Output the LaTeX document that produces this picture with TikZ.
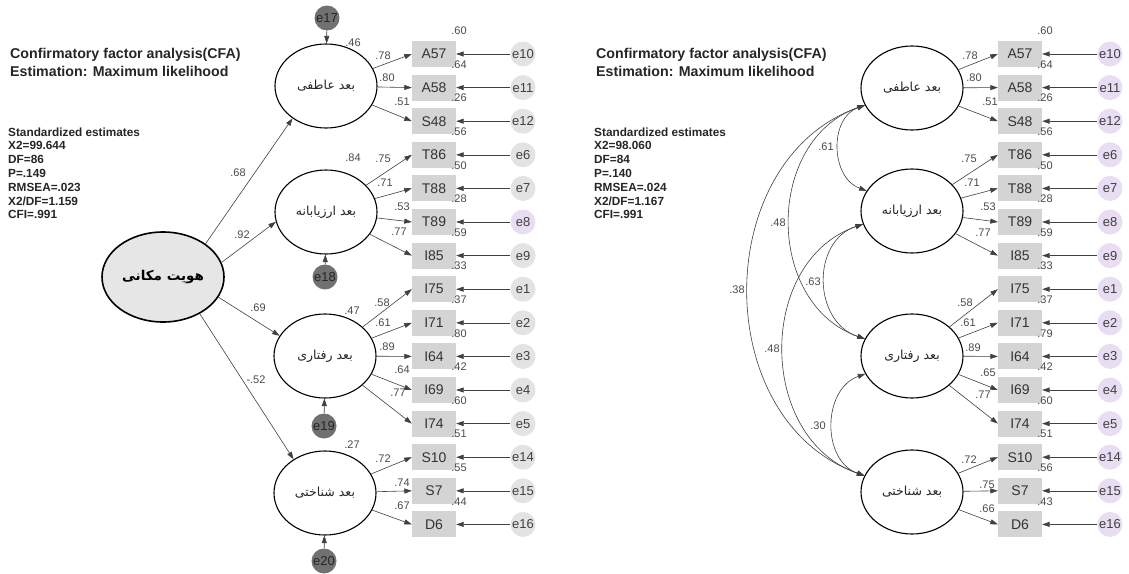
\documentclass[tikz,border=0pt]{standalone}
\usepackage{fontspec}
\setmainfont{Liberation Sans}
\newfontfamily\fafont[Script=Arabic]{DejaVu Sans}
\TeXXeTstate=1
\usetikzlibrary{arrows.meta,shapes.geometric}
\definecolor{boxgray}{HTML}{D4D4D4}
\definecolor{errgray}{HTML}{E3E3E3}
\definecolor{errlilac}{HTML}{E8DDF3}
\definecolor{resdark}{HTML}{717171}
\definecolor{latfill}{HTML}{E6E6E6}
\definecolor{linegray}{HTML}{404040}
\definecolor{numgray}{HTML}{4A4A4A}
\newcommand{\fa}[1]{{\fafont\beginR #1\endR}}
\begin{document}
\begin{tikzpicture}[x=1pt,y=-1pt,
  factor/.style={ellipse,draw=black,line width=1.1pt,minimum width=102pt,minimum height=84pt,inner sep=0pt,text=black!85,font=\fafont\fontsize{12.5}{13}\selectfont},
  general/.style={ellipse,draw=black,line width=1.6pt,fill=latfill,minimum width=122pt,minimum height=90pt,inner sep=0pt,font=\fafont\bfseries\fontsize{13.5}{14}\selectfont},
  obs/.style={rectangle,fill=boxgray,minimum width=44pt,minimum height=26pt,inner sep=0pt,text=black!80,font=\fontsize{14}{14}\selectfont},
  err/.style={circle,fill=errgray,minimum size=25pt,inner sep=0pt,text=black!75,font=\fontsize{13}{13}\selectfont},
  dist/.style={circle,fill=resdark,minimum size=25pt,inner sep=0pt,text=black!85,font=\fontsize{13}{13}\selectfont},
  path/.style={draw=linegray,line width=0.6pt,-{Triangle[length=7.5pt,width=5pt]}},
  cov/.style={draw=linegray,line width=0.6pt,{Triangle[length=7.5pt,width=5pt]}-{Triangle[length=7.5pt,width=5pt]}},
  num/.style={inner sep=0pt,text=numgray,font=\fontsize{11}{12}\selectfont},
  title/.style={inner sep=0pt,anchor=west,text=black!85,font=\bfseries\fontsize{14.2}{15}\selectfont},
  stat/.style={inner sep=0pt,anchor=west,text=black!85,font=\bfseries\fontsize{11.8}{12}\selectfont}]
\useasboundingbox (0,0) rectangle (1129,573);
\fill[white] (0,0) rectangle (1129,573);

% ---------------- second-order model ----------------
\begin{scope}[name prefix=L-]
  \node[title] (t1) at (10,55) {Confirmatory factor analysis(CFA)};
  \node[title] (t2) at (10,71) {Estimation: Maximum likelihood};
  \foreach \s [count=\i from 0] in {Standardized estimates,X2=99.644,DF=86,P=.149,RMSEA=.023,X2/DF=1.159,CFI=.991}
    \node[stat] (s\i) at (8,{132+13.8*\i}) {\s};

  \node[general] (G) at (163,277) {\fa{هویت مکانی}};
  \node[factor] (F1) at (326,86) {\fa{بعد عاطفی}};
  \node[factor] (F2) at (326,212) {\fa{بعد ارزیابانه}};
  \node[factor] (F3) at (325,356) {\fa{بعد رفتاری}};
  \node[factor] (F4) at (325,493) {\fa{بعد شناختی}};

  \node[dist] (e17) at (327,18) {e17};
  \node[dist] (e18) at (325,277) {e18};
  \node[dist] (e19) at (324,426) {e19};
  \node[dist] (e20) at (324,561) {e20};
  \draw[path] (e17) -- (F1);
  \draw[path] (e18) -- (F2);
  \draw[path] (e19) -- (F3);
  \draw[path] (e20) -- (F4);

  \draw[path] (G.38) -- (F1.224);
  \draw[path] (G.14) -- (F2.191);
  \draw[path] (G.-20) -- (F3.156);
  \draw[path] (G.-45) -- (F4.133);
  \node[num] (g1) at (238,173) {.68};
  \node[num] (g2) at (242,235) {.92};
  \node[num] (g3) at (258,308) {.69};
  \node[num] (g4) at (256,380) {-.52};

  \foreach \b/\e/\k/\r/\c in {A57/e10/0/.60/errgray,A58/e11/1/.64/errgray,S48/e12/2/.26/errgray,
      T86/e6/3/.56/errgray,T88/e7/4/.50/errgray,T89/e8/5/.28/errlilac,I85/e9/6/.59/errgray,
      I75/e1/7/.33/errgray,I71/e2/8/.37/errgray,I64/e3/9/.80/errgray,I69/e4/10/.42/errgray,
      I74/e5/11/.60/errgray,S10/e14/12/.51/errgray,S7/e15/13/.55/errgray,D6/e16/14/.44/errgray}{
    \node[obs] (\b) at (434,{54+33.6*\k}) {\b};
    \node[err,fill=\c] (\e) at (523,{54+33.6*\k}) {\e};
    \draw[path] (\e) -- (\b);
    \node[num] (r\b) at (459,{31+33.6*\k}) {\r};
  }
  \foreach \b in {A57,A58,S48} \draw[path] (F1) -- (\b.west);
  \foreach \b in {T86,T88,T89,I85} \draw[path] (F2) -- (\b.west);
  \foreach \b in {I75,I71,I64,I69,I74} \draw[path] (F3) -- (\b.west);
  \foreach \b in {S10,S7,D6} \draw[path] (F4) -- (\b.west);

  \foreach \t/\x/\y [count=\i] in {.46/353/43,.78/383/56,.80/387/78,.51/402/102,
      .84/353/158,.75/383/159,.71/385/183,.53/402/207,.77/399/232,
      .47/352/311,.58/382/303,.61/383/323,.89/387/347,.64/402/370,.77/398/393,
      .27/352/445,.72/383/459,.74/402/483,.67/402/506}
    \node[num] (l\i) at (\x,\y) {\t};
\end{scope}

% ---------------- correlated first-order model ----------------
\begin{scope}[shift={(586,0)},name prefix=R-]
  \node[title] (t1) at (10,55) {Confirmatory factor analysis(CFA)};
  \node[title] (t2) at (10,71) {Estimation: Maximum likelihood};
  \foreach \s [count=\i from 0] in {Standardized estimates,X2=98.060,DF=84,P=.140,RMSEA=.024,X2/DF=1.167,CFI=.991}
    \node[stat] (s\i) at (8,{132+13.8*\i}) {\s};

  \node[factor] (F1) at (326,88) {\fa{بعد عاطفی}};
  \node[factor] (F2) at (326,211) {\fa{بعد ارزیابانه}};
  \node[factor] (F3) at (326,356) {\fa{بعد رفتاری}};
  \node[factor] (F4) at (326,492) {\fa{بعد شناختی}};

  \foreach \b/\e/\k/\r in {A57/e10/0/.60,A58/e11/1/.64,S48/e12/2/.26,
      T86/e6/3/.56,T88/e7/4/.50,T89/e8/5/.28,I85/e9/6/.59,
      I75/e1/7/.33,I71/e2/8/.37,I64/e3/9/.79,I69/e4/10/.42,
      I74/e5/11/.60,S10/e14/12/.51,S7/e15/13/.56,D6/e16/14/.43}{
    \node[obs] (\b) at (434,{54+33.6*\k}) {\b};
    \node[err,fill=errlilac] (\e) at (524,{54+33.6*\k}) {\e};
    \draw[path] (\e) -- (\b);
    \node[num] (r\b) at (459,{31+33.6*\k}) {\r};
  }
  \foreach \b in {A57,A58,S48} \draw[path] (F1) -- (\b.west);
  \foreach \b in {T86,T88,T89,I85} \draw[path] (F2) -- (\b.west);
  \foreach \b in {I75,I71,I64,I69,I74} \draw[path] (F3) -- (\b.west);
  \foreach \b in {S10,S7,D6} \draw[path] (F4) -- (\b.west);

  \foreach \t/\x/\y [count=\i] in {.78/384/56,.80/388/78,.51/404/102,
      .75/383/159,.71/386/183,.53/402/207,.77/397/233,
      .58/379/303,.61/382/323,.89/387/348,.65/402/373,.77/397/395,
      .72/383/460,.75/401/485,.66/401/509}
    \node[num] (l\i) at (\x,\y) {\t};

  % covariances between the four factors
  \draw[cov] (F1.200) .. controls +(-36,13) and +(-36,-13) .. (F2.156);
  \draw[cov] (F1.200) .. controls +(-100,35) and +(-100,-35) .. (F3.160);
  \draw[cov] (F1.200) .. controls +(-155,55) and +(-155,-55) .. (F4.161);
  \draw[cov] (F2.195) .. controls +(-52,17) and +(-52,-17) .. (F3.160);
  \draw[cov] (F2.195) .. controls +(-107,37) and +(-107,-37) .. (F4.161);
  \draw[cov] (F3.201) .. controls +(-43,15) and +(-43,-15) .. (F4.161);
  \node[num] (c1) at (240,147) {.61};
  \node[num] (c2) at (192,223) {.48};
  \node[num] (c3) at (151,290) {.38};
  \node[num] (c4) at (227,282) {.63};
  \node[num] (c5) at (186,349) {.48};
  \node[num] (c6) at (232,426) {.30};
\end{scope}
\end{tikzpicture}
\end{document}
